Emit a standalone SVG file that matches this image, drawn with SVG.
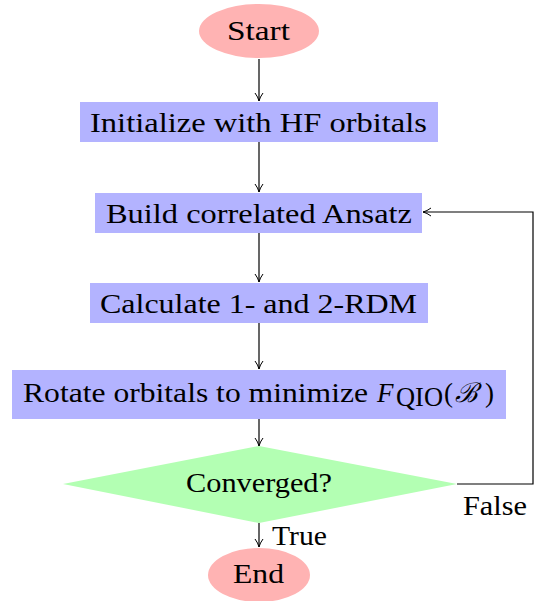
<svg xmlns="http://www.w3.org/2000/svg" width="541" height="601" viewBox="0 0 541 601">
<style>
text{font-family:"Liberation Serif","DejaVu Serif",serif;font-size:27px;fill:#000}
.box{fill:#b3b3ff}
.term{fill:#ffb3b3}
.dec{fill:#b3ffb3}
.ln{fill:none;stroke:#000;stroke-width:1.2}
</style>
<defs>
<marker id="ar" viewBox="0 0 10 10" refX="9" refY="5" markerWidth="10" markerHeight="10" markerUnits="userSpaceOnUse" orient="auto">
<path d="M1,1 Q5,4 9,5 Q5,6 1,9" fill="none" stroke="#000" stroke-width="1"/>
</marker>
</defs>
<g id="connectors">
<line class="ln" x1="259" y1="59" x2="259" y2="101" marker-end="url(#ar)"/>
<line class="ln" x1="259" y1="142" x2="259" y2="192" marker-end="url(#ar)"/>
<line class="ln" x1="259" y1="233" x2="259" y2="282" marker-end="url(#ar)"/>
<line class="ln" x1="259" y1="323" x2="259" y2="369" marker-end="url(#ar)"/>
<line class="ln" x1="259" y1="419" x2="259" y2="446" marker-end="url(#ar)"/>
<line class="ln" x1="259" y1="523" x2="259" y2="547" marker-end="url(#ar)"/>
<polyline class="ln" points="457,484 533,484 533,212 423,212" marker-end="url(#ar)"/>
<text x="463" y="515" textLength="64" lengthAdjust="spacingAndGlyphs">False</text>
<text x="272" y="545" textLength="55" lengthAdjust="spacingAndGlyphs">True</text>
</g>
<g id="start">
<ellipse class="term" cx="259" cy="31" rx="60" ry="27"/>
<text x="227" y="40" textLength="63" lengthAdjust="spacingAndGlyphs">Start</text>
</g>
<g id="init">
<rect class="box" x="80" y="102" width="358" height="40"/>
<text x="90" y="132" textLength="337" lengthAdjust="spacingAndGlyphs">Initialize with HF orbitals</text>
</g>
<g id="build">
<rect class="box" x="95" y="193" width="327" height="40"/>
<text x="106" y="223" textLength="306" lengthAdjust="spacingAndGlyphs">Build correlated Ansatz</text>
</g>
<g id="calc">
<rect class="box" x="90" y="283" width="338" height="40"/>
<text x="100" y="313" textLength="317" lengthAdjust="spacingAndGlyphs">Calculate 1- and 2-RDM</text>
</g>
<g id="rotate">
<rect class="box" x="12" y="370" width="494" height="49"/>
<text x="23" y="402" textLength="345" lengthAdjust="spacingAndGlyphs">Rotate orbitals to minimize</text>
<text x="377" y="402" font-style="italic">F</text>
<text x="396" y="406" font-size="17" textLength="47" lengthAdjust="spacingAndGlyphs">QIO</text>
<text x="444" y="402">(</text>
<text x="455" y="402" font-style="italic">ℬ</text>
<text x="485" y="402">)</text>
</g>
<g id="converged">
<polygon class="dec" points="63,484 259,446 457,484 259,523"/>
<text x="186" y="492" textLength="146" lengthAdjust="spacingAndGlyphs">Converged?</text>
</g>
<g id="end">
<ellipse class="term" cx="259" cy="575" rx="51" ry="27"/>
<text x="233" y="583" textLength="51" lengthAdjust="spacingAndGlyphs">End</text>
</g>
</svg>
